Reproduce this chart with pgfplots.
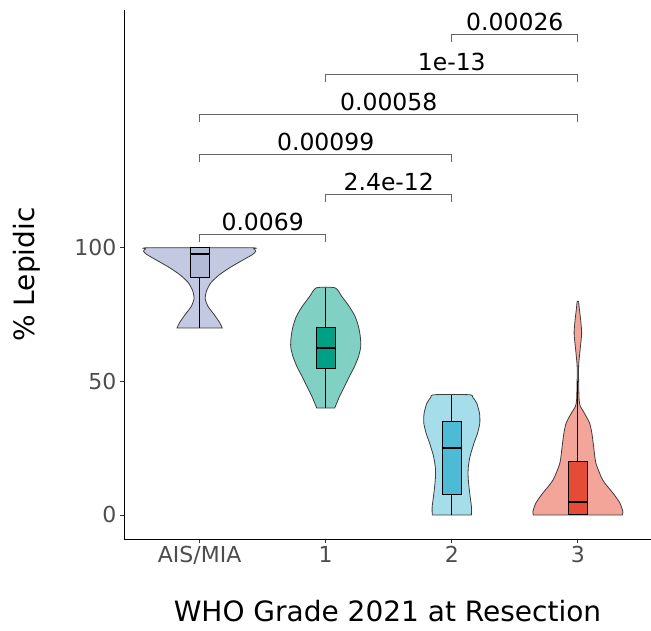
\documentclass[border=0pt]{standalone}
\usepackage{fontspec}
\setmainfont{DejaVu Sans}
\usepackage{pgfplots}
\pgfplotsset{compat=1.18}
\usepgfplotslibrary{statistics}
\definecolor{aisv}{HTML}{C4C9E2}
\definecolor{aisb}{HTML}{B2BAD8}
\definecolor{gav}{HTML}{80D0C3}
\definecolor{gab}{HTML}{00A087}
\definecolor{gbv}{HTML}{A6DDEA}
\definecolor{gbb}{HTML}{4DBBD5}
\definecolor{gcv}{HTML}{F3A59A}
\definecolor{gcb}{HTML}{E64B35}
\definecolor{vedge}{HTML}{3C3C3C}
\definecolor{brk}{HTML}{666666}
\definecolor{tickc}{HTML}{333333}
\definecolor{labc}{HTML}{4D4D4D}
\begin{document}
\begin{tikzpicture}
\useasboundingbox (-124bp,-92bp) rectangle (527bp,539bp);
\begin{axis}[at={(0,0)}, anchor=south west, scale only axis,
  width=527bp, height=529bp,
  xmin=0.4, xmax=4.58, ymin=-9, ymax=189,
  axis lines=left, axis line style={-, black, line width=0.8bp},
  xtick={1,2,3,4}, xticklabels={AIS/MIA,1,2,3},
  ytick={0,50,100},
  tick align=outside, major tick length=4bp,
  tick style={color=tickc, line width=0.8bp},
  ticklabel style={font=\fontsize{22bp}{26bp}\selectfont, text=labc},
  /pgf/number format/assume math mode=true,
  clip=false,
  boxplot/draw direction=y,
  boxplot/every median/.style={line width=2bp},
]
% violins
\addplot[draw=vedge, fill=aisv, line width=0.8bp, smooth, tension=0.4] coordinates {
(0.821,70) (0.841,72) (0.885,75) (0.933,78) (0.956,81) (0.944,84) (0.909,87) (0.841,90) (0.746,93) (0.635,96) (0.580,97.5) (0.555,98.7) (0.570,99.6) (0.600,100)
(1.400,100) (1.430,99.6) (1.445,98.7) (1.420,97.5) (1.365,96) (1.254,93) (1.159,90) (1.091,87) (1.056,84) (1.044,81) (1.067,78) (1.115,75) (1.159,72) (1.179,70)} -- cycle;
\addplot[draw=vedge, fill=gav, line width=0.8bp, smooth, tension=0.4] coordinates {
(1.929,40) (1.891,44.3) (1.852,48) (1.813,51.8) (1.772,55.5) (1.740,59.3) (1.722,63) (1.726,66.8) (1.740,70.5) (1.767,74.3) (1.813,78) (1.873,81.8) (1.926,85)
(2.074,85) (2.127,81.8) (2.187,78) (2.233,74.3) (2.260,70.5) (2.274,66.8) (2.278,63) (2.260,59.3) (2.228,55.5) (2.187,51.8) (2.148,48) (2.109,44.3) (2.071,40)} -- cycle;
\addplot[draw=vedge, fill=gbv, line width=0.8bp, smooth, tension=0.4] coordinates {
(2.845,0) (2.844,3) (2.855,7) (2.867,12) (2.871,15) (2.869,18) (2.855,22) (2.823,27) (2.796,30.6) (2.778,34.3) (2.780,38) (2.802,41.8) (2.833,44) (2.861,45)
(3.139,45) (3.167,44) (3.198,41.8) (3.220,38) (3.222,34.3) (3.204,30.6) (3.177,27) (3.145,22) (3.131,18) (3.129,15) (3.133,12) (3.145,7) (3.156,3) (3.155,0)} -- cycle;
\addplot[draw=vedge, fill=gcv, line width=0.8bp, smooth, tension=0.4] coordinates {
(3.647,0) (3.643,1.2) (3.667,4.5) (3.722,8.2) (3.802,13) (3.857,19.4) (3.875,25.6) (3.889,30.6) (3.907,34.4) (3.947,38) (3.980,40.6) (3.990,43) (3.994,50) (3.994,56) (3.982,62) (3.970,68) (3.978,73) (3.988,77) (3.995,80)
(4.005,80) (4.012,77) (4.022,73) (4.030,68) (4.018,62) (4.006,56) (4.006,50) (4.010,43) (4.020,40.6) (4.053,38) (4.093,34.4) (4.111,30.6) (4.125,25.6) (4.143,19.4) (4.198,13) (4.278,8.2) (4.333,4.5) (4.357,1.2) (4.353,0)} -- cycle;
% boxes
\addplot[boxplot prepared={draw position=1, lower whisker=70, lower quartile=89, median=97.5, upper quartile=100, upper whisker=100, box extend=0.153, whisker extend=0}, draw=black, fill=aisb, line width=1bp] coordinates {};
\addplot[boxplot prepared={draw position=2, lower whisker=40, lower quartile=55, median=62.5, upper quartile=70, upper whisker=85, box extend=0.153, whisker extend=0}, draw=black, fill=gab, line width=1bp] coordinates {};
\addplot[boxplot prepared={draw position=3, lower whisker=0, lower quartile=7.5, median=25, upper quartile=35, upper whisker=45, box extend=0.153, whisker extend=0}, draw=black, fill=gbb, line width=1bp] coordinates {};
\addplot[boxplot prepared={draw position=4, lower whisker=0, lower quartile=0, median=5, upper quartile=20, upper whisker=50, box extend=0.153, whisker extend=0}, draw=black, fill=gcb, line width=1bp] coordinates {};
% brackets
\addplot[brk, line width=0.8bp] coordinates {(1,102) (1,105) (2,105) (2,102)};
\addplot[brk, line width=0.8bp] coordinates {(2,117) (2,120) (3,120) (3,117)};
\addplot[brk, line width=0.8bp] coordinates {(1,132) (1,135) (3,135) (3,132)};
\addplot[brk, line width=0.8bp] coordinates {(1,147) (1,150) (4,150) (4,147)};
\addplot[brk, line width=0.8bp] coordinates {(2,162) (2,165) (4,165) (4,162)};
\addplot[brk, line width=0.8bp] coordinates {(3,177) (3,180) (4,180) (4,177)};
\begin{scope}[every node/.style={anchor=base, font=\fontsize{23.5bp}{28bp}\selectfont, yshift=4bp}]
\node at (axis cs:1.5,105) {0.0069};
\node at (axis cs:2.5,120) {2.4e-12};
\node at (axis cs:2,135) {0.00099};
\node at (axis cs:2.5,150) {0.00058};
\node at (axis cs:3,165) {1e-13};
\node at (axis cs:3.5,180) {0.00026};
\end{scope}
\node[rotate=90, anchor=base, font=\fontsize{28bp}{32bp}\selectfont] at ([xshift=-89bp]axis description cs:0,0.5) {\% Lepidic};
\node[anchor=base, font=\fontsize{28bp}{32bp}\selectfont] at ([yshift=-82bp]axis description cs:0.5,0) {WHO Grade 2021 at Resection};
\end{axis}
\end{tikzpicture}
\end{document}
